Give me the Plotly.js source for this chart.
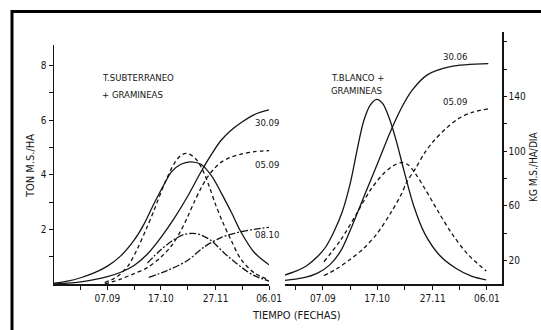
<!DOCTYPE html>
<html>
<head>
<meta charset="utf-8">
<script src="https://cdn.plot.ly/plotly-3.0.1.min.js"></script>
<style>html,body{margin:0;padding:0;background:#fff;}#chart{width:541px;height:330px;}</style>
</head>
<body>
<div id="chart"></div>
<script>
// x values: days counted from 07.09
var xTickVals = [-20, 0, 20, 40, 60, 81, 101, 121];
var xTickText = ['', '07.09', '', '17.10', '', '27.11', '', '06.01'];
var tonTickVals = [1, 2, 3, 4, 5, 6, 7, 8];
var tonTickText = ['', '2', '', '4', '', '6', '', '8'];
var kgTickVals = [20, 40, 60, 80, 100, 120, 140, 160, 180];
var kgTickText = ['20', '', '60', '', '100', '', '140', '', ''];

// Left panel: T. subterraneo + gramineas
// cumulative (TON M.S./HA)
var sub3009SigDays = [-40, -30, -20, -10, 0, 10, 20, 30, 40, 50, 60, 70, 78, 85, 92, 100, 110, 121];
var sub3009SigTon  = [0.0, 0.03, 0.08, 0.16, 0.27, 0.43, 0.68, 1.1, 1.7, 2.4, 3.2, 4.1, 4.75, 5.25, 5.6, 5.9, 6.2, 6.37];
var sub0509SigDays = [-2, 10, 20, 30, 40, 48, 55, 60, 65, 70, 75, 80, 85, 92, 100, 110, 121];
var sub0509SigTon  = [0.0, 0.18, 0.38, 0.6, 0.98, 1.4, 1.95, 2.45, 3.0, 3.5, 3.92, 4.22, 4.45, 4.63, 4.75, 4.84, 4.88];
var sub0810SigDays = [31, 45, 60, 72, 85, 97, 110, 121];
var sub0810SigTon  = [0.24, 0.5, 0.86, 1.34, 1.7, 1.88, 2.0, 2.07];
// growth rate (KG M.S./HA/DIA)
var sub3009RateDays = [-40, -30, -20, -10, 0, 10, 20, 27, 35, 42, 48, 55, 62, 70, 78, 85, 93, 100, 110, 121];
var sub3009RateKg   = [3.5, 5, 7.5, 11, 16, 23.5, 35, 46, 62, 75, 85, 90.5, 92.3, 90.5, 82, 70, 55, 41, 26, 17];
var sub0509RateDays = [-2, 5, 10, 16, 22.6, 29, 35, 42.6, 50, 55, 59, 63, 67, 71, 76, 81, 86, 92.6, 100, 110, 121];
var sub0509RateKg   = [4, 7, 10.5, 17, 29, 43, 57, 76, 91, 97, 98.5, 97, 93.5, 87, 75, 61, 49, 35, 21, 11, 6];
var sub0810RateDays = [30, 40, 50, 57, 63.7, 70, 78, 87, 100, 110, 121];
var sub0810RateKg   = [18.3, 28, 35.5, 39, 40, 38.8, 34.5, 26, 15.4, 9, 5.1];

// Right panel: T. blanco + gramineas
var bla3006SigDays = [-28, -15, -4, 5, 13, 20, 27, 34, 41, 50, 58, 66, 77, 94, 122];
var bla3006SigTon  = [0.13, 0.22, 0.4, 0.7, 1.2, 1.95, 2.8, 3.65, 4.5, 5.6, 6.45, 7.1, 7.65, 7.95, 8.06];
var bla0509SigDays = [0.7, 10, 20, 30, 40, 50, 58, 62, 68, 75, 82, 91, 100, 110, 122];
var bla0509SigTon  = [0.31, 0.55, 0.9, 1.3, 1.85, 2.6, 3.3, 3.75, 4.2, 4.8, 5.25, 5.7, 6.05, 6.28, 6.41];
var bla3006RateDays = [-28, -20, -12, -4, 2, 8, 14, 20, 25, 30, 35, 39.8, 44, 49, 54, 60, 67, 75, 86, 98, 110, 120.3];
var bla3006RateKg   = [9.5, 12.3, 16.3, 23, 30, 41, 55, 76, 100, 122, 134, 138, 135, 124, 108, 85, 60, 40, 24, 14.5, 8.5, 6];
var bla0509RateDays = [0.7, 13, 25, 35, 45, 52, 58, 63, 68, 75, 85, 95, 107, 120.5];
var bla0509RateKg   = [19.2, 35, 54.6, 71.7, 84, 89.5, 91.8, 90, 84, 73, 56, 40, 24.5, 12.5];

var INK = '#151515';
var FONT = 'DejaVu Sans Condensed, Liberation Sans Narrow, sans-serif';
var SOLID = 'solid', DASH = '4px,3px', DASHDOT = '7px,2px,2px,2px';

function tr(x, y, xa, ya, dash) {
  return {x: x, y: y, xaxis: xa, yaxis: ya, type: 'scatter', mode: 'lines',
          line: {color: INK, width: 1.3, dash: dash, shape: 'spline', smoothing: 0.9},
          hoverinfo: 'skip', showlegend: false};
}

var data = [
  tr(sub3009SigDays, sub3009SigTon, 'x', 'y', SOLID),
  tr(sub0509SigDays, sub0509SigTon, 'x', 'y', DASH),
  tr(sub0810SigDays, sub0810SigTon, 'x', 'y', DASHDOT),
  tr(sub3009RateDays, sub3009RateKg, 'x', 'y2', SOLID),
  tr(sub0509RateDays, sub0509RateKg, 'x', 'y2', DASH),
  tr(sub0810RateDays, sub0810RateKg, 'x', 'y2', DASHDOT),
  tr(bla3006SigDays, bla3006SigTon, 'x2', 'y3', SOLID),
  tr(bla0509SigDays, bla0509SigTon, 'x2', 'y3', DASH),
  tr(bla3006RateDays, bla3006RateKg, 'x2', 'y4', SOLID),
  tr(bla0509RateDays, bla0509RateKg, 'x2', 'y4', DASH)
];

// pixel -> paper helpers (plot area 54..502 x 32..284)
var L = 54, R = 39, T = 32, B = 46, W = 541, H = 330;
function PX(px) { return (px - L) / (W - L - R); }
function PY(py) { return (H - B - py) / (H - T - B); }

var tickFont = {family: FONT, size: 10, color: INK};
var xBase = {showgrid: false, zeroline: false, showline: true, linecolor: INK, linewidth: 1.5,
  ticks: 'outside', ticklen: 4, tickwidth: 1, tickcolor: INK, tickmode: 'array',
  tickvals: xTickVals, ticktext: xTickText, tickfont: tickFont, fixedrange: true};

function ann(text, x, y, size, opts) {
  var a = {text: text, x: PX(x), y: PY(y), xref: 'paper', yref: 'paper', showarrow: false,
    xanchor: 'left', yanchor: 'middle', font: {family: FONT, size: size, color: INK}};
  for (var k in opts) a[k] = opts[k];
  return a;
}

var layout = {
  width: W, height: H,
  margin: {l: L, r: R, t: T, b: B, pad: 0},
  paper_bgcolor: '#ffffff', plot_bgcolor: 'rgba(0,0,0,0)',
  showlegend: false,
  xaxis: Object.assign({}, xBase, {domain: [0, PX(269)], range: [-40, 121], anchor: 'y'}),
  xaxis2: Object.assign({}, xBase, {domain: [PX(285), 1], range: [-28, 132.1], anchor: 'y3'}),
  yaxis: {domain: [0, PY(45)], range: [0, 8.745], anchor: 'x', side: 'left',
    showgrid: false, zeroline: false, showline: true, linecolor: INK, linewidth: 1.5,
    ticks: 'outside', ticklen: 4, tickcolor: INK, tickmode: 'array',
    tickvals: tonTickVals, ticktext: tonTickText, tickfont: tickFont, fixedrange: true},
  yaxis2: {overlaying: 'y', anchor: 'x', range: [2.93, 177.77], visible: false, fixedrange: true},
  yaxis3: {domain: [0, 1], range: [0, 9.22], anchor: 'x2', visible: false, fixedrange: true},
  yaxis4: {overlaying: 'y3', anchor: 'x2', side: 'right', range: [2.93, 187.28],
    showgrid: false, zeroline: false, showline: true, linecolor: INK, linewidth: 1.5,
    ticks: 'outside', ticklen: 3, tickcolor: INK, tickmode: 'array',
    tickvals: kgTickVals, ticktext: kgTickText, tickfont: tickFont, fixedrange: true},
  annotations: [
    ann('T.SUBTERRANEO', 100, 77, 9.5),
    ann('+ GRAMINEAS', 100, 94, 9.5),
    ann('T.BLANCO +', 329, 77, 9.5),
    ann('GRAMINEAS', 329, 90, 9.5),
    ann('30.09', 253, 122.5, 9.5),
    ann('05.09', 253, 164, 9.5),
    ann('08.10', 253, 234, 9.5),
    ann('30.06', 441, 56, 9.5),
    ann('05.09', 441, 101, 9.5),
    ann('TIEMPO (FECHAS)', 296, 315, 11, {xanchor: 'center'}),
    ann('TON M.S./HA', 30, 166, 11, {xanchor: 'center', textangle: -90}),
    ann('KG M.S./HA/DIA', 533, 167, 10, {xanchor: 'center', textangle: -90})
  ],
  shapes: [
    {type: 'path', xref: 'paper', yref: 'paper', layer: 'above',
     path: 'M ' + PX(12) + ',' + PY(335) + ' L ' + PX(12) + ',' + PY(11.5) + ' L ' + PX(545) + ',' + PY(11.5),
     line: {color: '#000', width: 3}}
  ]
};

Plotly.newPlot('chart', data, layout, {displayModeBar: false, staticPlot: true});
</script>
</body>
</html>
